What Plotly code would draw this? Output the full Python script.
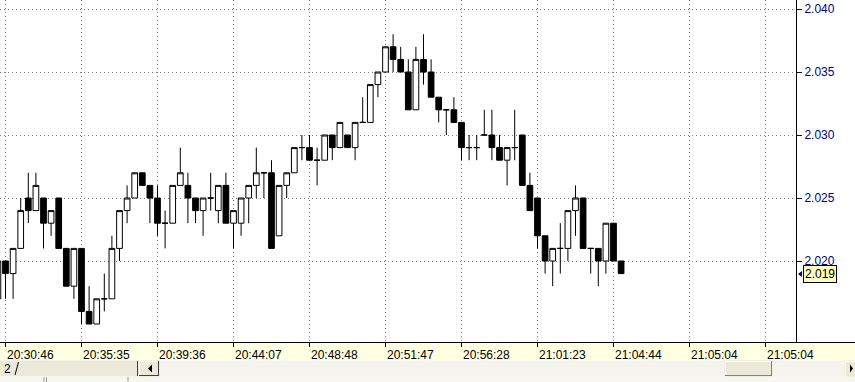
import plotly.graph_objects as go

# ---------------- data ----------------
bar_index = list(range(-1, 82))
opens = [2.017, 2.020, 2.019, 2.021, 2.025, 2.024, 2.025, 2.023, 2.025, 2.021, 2.018,
         2.021, 2.016, 2.015, 2.017, 2.017, 2.021, 2.024, 2.025, 2.027, 2.026,
         2.025, 2.023, 2.023, 2.026, 2.026, 2.025, 2.024, 2.025, 2.024, 2.026,
         2.023, 2.023, 2.025, 2.026, 2.027, 2.027, 2.022, 2.026, 2.027, 2.029,
         2.029, 2.028, 2.028, 2.030, 2.029, 2.030, 2.029, 2.031, 2.031, 2.034,
         2.035, 2.037, 2.036, 2.035, 2.032, 2.036, 2.035, 2.033, 2.032, 2.032,
         2.031, 2.029, 2.029, 2.030, 2.030, 2.029, 2.028, 2.029, 2.030, 2.026,
         2.025, 2.022, 2.020, 2.021, 2.021, 2.024, 2.025, 2.021, 2.021, 2.020,
         2.023, 2.020]
highs = [2.020, 2.020, 2.021, 2.025, 2.027, 2.027, 2.025, 2.024, 2.025, 2.021, 2.021,
         2.021, 2.018, 2.017, 2.019, 2.022, 2.024, 2.026, 2.027, 2.027, 2.026,
         2.026, 2.024, 2.026, 2.029, 2.027, 2.025, 2.025, 2.027, 2.026, 2.027,
         2.024, 2.025, 2.026, 2.029, 2.027, 2.028, 2.026, 2.027, 2.029, 2.030,
         2.030, 2.029, 2.030, 2.030, 2.031, 2.030, 2.031, 2.033, 2.034, 2.035,
         2.037, 2.038, 2.037, 2.036, 2.037, 2.038, 2.036, 2.033, 2.032, 2.033,
         2.031, 2.030, 2.030, 2.032, 2.032, 2.030, 2.029, 2.032, 2.030, 2.027,
         2.025, 2.022, 2.021, 2.023, 2.024, 2.026, 2.025, 2.021, 2.021, 2.023,
         2.023, 2.020]
lows = [2.017, 2.017, 2.017, 2.021, 2.023, 2.024, 2.021, 2.022, 2.021, 2.018, 2.017,
        2.015, 2.015, 2.015, 2.016, 2.017, 2.020, 2.023, 2.025, 2.026, 2.023,
        2.022, 2.021, 2.023, 2.026, 2.023, 2.023, 2.022, 2.024, 2.023, 2.023,
        2.021, 2.022, 2.023, 2.025, 2.025, 2.021, 2.022, 2.025, 2.027, 2.028,
        2.028, 2.026, 2.028, 2.028, 2.029, 2.029, 2.028, 2.031, 2.031, 2.033,
        2.035, 2.035, 2.035, 2.032, 2.032, 2.034, 2.033, 2.031, 2.030, 2.031,
        2.028, 2.028, 2.028, 2.030, 2.028, 2.028, 2.026, 2.028, 2.026, 2.024,
        2.021, 2.019, 2.018, 2.019, 2.020, 2.022, 2.021, 2.019, 2.018, 2.019,
        2.020, 2.019]
closes = [2.020, 2.019, 2.021, 2.024, 2.024, 2.026, 2.023, 2.024, 2.021, 2.018, 2.021,
          2.016, 2.015, 2.017, 2.017, 2.021, 2.024, 2.025, 2.027, 2.026, 2.025,
          2.023, 2.023, 2.026, 2.027, 2.025, 2.024, 2.025, 2.025, 2.026, 2.023,
          2.024, 2.025, 2.026, 2.027, 2.027, 2.021, 2.026, 2.027, 2.029, 2.029,
          2.028, 2.028, 2.030, 2.029, 2.031, 2.029, 2.031, 2.031, 2.034, 2.035,
          2.037, 2.036, 2.035, 2.032, 2.036, 2.035, 2.033, 2.032, 2.032, 2.031,
          2.029, 2.029, 2.029, 2.030, 2.029, 2.028, 2.029, 2.029, 2.026, 2.024,
          2.022, 2.020, 2.021, 2.021, 2.024, 2.025, 2.021, 2.021, 2.020, 2.023,
          2.020, 2.019]

tick_positions = [0, 10, 20, 30, 40, 50, 60, 70, 80, 90, 100]
tick_labels = ["20:30:46", "20:35:35", "20:39:36", "20:44:07", "20:48:48", "20:51:47",
               "20:56:28", "21:01:23", "21:04:44", "21:05:04", "21:05:04"]
price_ticks = [2.020, 2.025, 2.030, 2.035, 2.040]
last_price = 2.019

# ---------------- geometry helpers (decoration only) ----------------
W, H = 796.0, 342.0
def px(x):
    return x / W
def py(y):
    return (H - y) / H

FONT = "Liberation Sans, Arial, sans-serif"
GRID = "#808080"

fig = go.Figure()
fig.add_trace(go.Candlestick(
    x=bar_index, open=opens, high=highs, low=lows, close=closes,
    increasing=dict(line=dict(color="black", width=1), fillcolor="white"),
    decreasing=dict(line=dict(color="black", width=1), fillcolor="black"),
    whiskerwidth=0, hoverinfo="skip", showlegend=False,
))

shapes = []
def rect(x0, y0, x1, y1, fill, line=None, layer="below"):
    shapes.append(dict(type="rect", xref="paper", yref="paper",
                       x0=px(x0), x1=px(x1), y0=py(y0), y1=py(y1),
                       fillcolor=fill, line=dict(width=1 if line else 0, color=line or fill),
                       layer=layer))
def hline(x0, x1, y, color, layer="above"):
    shapes.append(dict(type="line", xref="paper", yref="paper",
                       x0=px(x0), x1=px(x1), y0=py(y), y1=py(y),
                       line=dict(width=1, color=color), layer=layer))
def vline(x, y0, y1, color, layer="above"):
    shapes.append(dict(type="line", xref="paper", yref="paper",
                       x0=px(x), x1=px(x), y0=py(y0), y1=py(y1),
                       line=dict(width=1, color=color), layer=layer))
def tri(pts, color):
    path = "M " + " L ".join(f"{px(a)},{py(b)}" for a, b in pts) + " Z"
    shapes.append(dict(type="path", xref="paper", yref="paper", path=path,
                       fillcolor=color, line=dict(width=0, color=color), layer="above"))

# time axis band
rect(0, 342, 855, 360.5, "#FFFFE1")
# scrollbar row
rect(0, 360.5, 855, 376, "#F4F3EE")
rect(0, 360.5, 138, 376, "#ECE9D8")
shapes.append(dict(type="line", xref="paper", yref="paper",
                   x0=px(15), y0=py(375), x1=px(18.5), y1=py(362),
                   line=dict(width=1, color="black"), layer="above"))
# left arrow button
rect(139, 361, 159, 376, "#ECE9D8", "#ECE9D8", layer="above")
hline(139, 159, 361.5, "white"); vline(139.5, 361, 376, "white")
hline(139, 159, 375.5, "#404040"); vline(158.5, 361, 376, "#404040")
vline(137.5, 361, 376, "#404040")
tri([(148, 368.5), (152, 364.5), (152, 372.5)], "black")
# thumb
rect(725, 361, 772, 376, "#ECE9D8", "#ECE9D8", layer="above")
hline(725, 772, 361.5, "white"); vline(725.5, 361, 376, "white")
hline(725, 772, 375.5, "#808080"); vline(771.5, 361, 376, "#808080")
# right arrow button
rect(845, 361, 855, 376, "#ECE9D8", "#ECE9D8", layer="above")
hline(845, 855, 361.5, "white"); vline(845.5, 361, 376, "white")
tri([(853, 368.5), (850, 364.5), (850, 372.5)], "black")
# bottom strip with tabs
rect(0, 376, 855, 382, "#F7F6F1")
vline(44, 377, 382, "#A0A0A0"); vline(46.5, 377, 382, "#A0A0A0")
vline(128, 377, 382, "#A0A0A0")
# x axis line across the full width
hline(0, 855, 342.5, "black")
# last price pointer
tri([(798, 274), (802, 271), (802, 277)], "#000080")

annotations = []
for pos, lab in zip(tick_positions, tick_labels):
    annotations.append(dict(x=pos, xref="x", y=py(355), yref="paper", text=lab,
                            showarrow=False, xanchor="left", yanchor="middle",
                            xshift=-1, font=dict(family=FONT, size=12, color="black")))
annotations.append(dict(x=px(803), xref="paper", y=last_price, yref="y",
                        text=f"{last_price:.3f}", showarrow=False,
                        xanchor="left", yanchor="middle",
                        bgcolor="#FFFFC0", bordercolor="black", borderwidth=1, borderpad=1,
                        font=dict(family=FONT, size=12, color="black")))
annotations.append(dict(x=px(2), xref="paper", y=py(368.5), yref="paper", text="2",
                        showarrow=False, xanchor="left", yanchor="middle",
                        font=dict(family=FONT, size=12, color="black")))

x_lo = -5.5 / 7.6
x_hi = (W - 5.5) / 7.6
y_lo = 2.020 - 81 / 12600
y_hi = 2.020 + 261 / 12600

fig.update_layout(
    width=855, height=382,
    margin=dict(l=0, r=59, t=0, b=40, pad=0),
    paper_bgcolor="white", plot_bgcolor="white",
    boxgap=0.25, boxgroupgap=0,
    showlegend=False,
    shapes=shapes, annotations=annotations,
    xaxis=dict(range=[x_lo, x_hi], tickvals=tick_positions, showticklabels=False,
               ticks="outside", ticklen=4, tickcolor="black", tickwidth=1,
               showgrid=True, gridcolor=GRID, griddash="1px,3px", gridwidth=1,
               zeroline=False, showline=False, rangeslider=dict(visible=False),
               fixedrange=True),
    yaxis=dict(side="right", range=[y_lo, y_hi], tickvals=price_ticks,
               ticktext=[f"{v:.3f}" for v in price_ticks],
               ticks="outside", ticklen=5, tickcolor="#000080", tickwidth=1,
               tickfont=dict(family=FONT, size=12, color="#000080"),
               showgrid=True, gridcolor=GRID, griddash="1px,3px", gridwidth=1,
               zeroline=False, showline=True, linecolor="black", linewidth=1,
               fixedrange=True),
)

fig.write_html("out.html")
